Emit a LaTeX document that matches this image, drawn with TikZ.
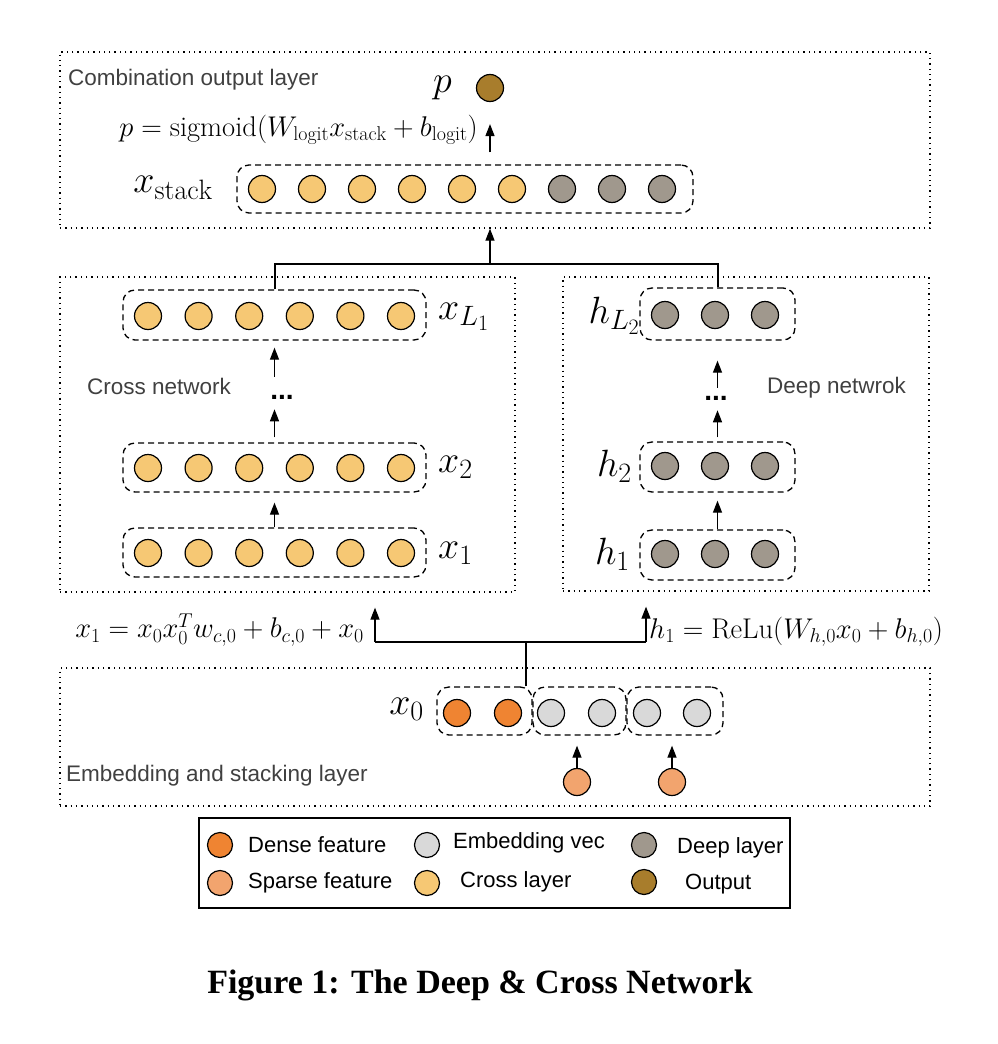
\documentclass[tikz,border=0pt]{standalone}
\usepackage{fontspec}
\setsansfont{Liberation Sans}
\newfontfamily\capfont{Liberation Serif}
\usepackage{xcolor}
\usepackage{tikz}
\usetikzlibrary{positioning, arrows.meta, shapes.geometric}

%% scalable math fonts
\DeclareFontShape{OML}{cmm}{m}{it}{<-6>cmmi5<6-7>cmmi6<7-8>cmmi7<8-9>cmmi8<9-10>cmmi9<10-12>cmmi10<12->cmmi12}{}
\DeclareFontShape{OMS}{cmsy}{m}{n}{<-6>cmsy5<6-7>cmsy6<7-8>cmsy7<8-9>cmsy8<9-10>cmsy9<10->cmsy10}{}
\DeclareFontShape{OT1}{cmr}{m}{n}{<-6>cmr5<6-7>cmr6<7-8>cmr7<8-9>cmr8<9-10>cmr9<10-12>cmr10<12-17>cmr12<17->cmr17}{}
\DeclareMathSizes{38}{38}{28}{22}

\definecolor{crossc}{HTML}{F6C874}
\definecolor{deepc}{HTML}{A0988D}
\definecolor{outc}{HTML}{A87D2C}
\definecolor{densec}{HTML}{EF8432}
\definecolor{sparsec}{HTML}{F2A46E}
\definecolor{embc}{HTML}{D9D9D9}
\definecolor{labelc}{HTML}{404040}

\newcommand{\bigmath}{\fontsize{38}{44}\selectfont}
\newcommand{\formmath}{\fontsize{28.5}{32}\selectfont}

\begin{document}
\begin{tikzpicture}[
  x=1pt, y=-1pt,
  layer/.style={rectangle, draw, line width=1.3pt, dash pattern=on 1.3pt off 4pt, inner sep=0pt},
  group/.style={rectangle, draw, line width=1.3pt, dash pattern=on 6pt off 4pt, rounded corners=12pt, inner sep=0pt},
  unit/.style={circle, draw, line width=1.2pt, minimum size=27pt, inner sep=0pt},
  cross/.style={unit, fill=crossc},
  deep/.style={unit, fill=deepc},
  dense/.style={unit, fill=densec},
  sparse/.style={unit, fill=sparsec},
  emb/.style={unit, fill=embc},
  outunit/.style={unit, fill=outc},
  title/.style={anchor=west, inner sep=0pt, text=labelc, font=\sffamily\fontsize{22.5}{26}\selectfont},
  legtext/.style={anchor=west, inner sep=0pt, font=\sffamily\fontsize{22}{26}\selectfont},
  vdots/.style={inner sep=0pt, font=\sffamily\bfseries\fontsize{28}{32}\selectfont},
  arrow/.style={-{Triangle[length=12pt, width=9pt]}, line width=1.3pt},
  every node/.style={align=center}
]
\useasboundingbox (0,0) rectangle (998,1044);

%% Layers
\node[layer, minimum width=870pt, minimum height=176pt] (outlayer) at (495,140) {};
\node[layer, minimum width=455pt, minimum height=315pt] (crossnet) at (287.5,434.5) {};
\node[layer, minimum width=366pt, minimum height=314pt] (deepnet) at (746,434) {};
\node[layer, minimum width=870pt, minimum height=138pt] (emblayer) at (495,737) {};

\node[title] (outtitle) at (68,80) {Combination output layer};
\node[title] (crosstitle) at (87,386) {Cross network};
\node[title] (deeptitle) at (767,388) {Deep netwrok};
\node[title] (embtitle) at (66,776) {Embedding and stacking layer};

%% Combination output layer
\node[outunit] (pout) at (490,88) {};
\node[anchor=east, inner sep=0pt, font=\bigmath] (plabel) at (452,88) {$p$};
\node[anchor=east, inner sep=0pt, font=\formmath] (outform) at (478,130) {$p = \mathrm{sigmoid}(W_{\mathrm{logit}}x_{\mathrm{stack}} + b_{\mathrm{logit}})$};

\node[group, minimum width=456pt, minimum height=48pt] (stack) at (465,189) {};
\foreach \i in {0,...,5}
  \node[cross] (stk\i) at (262+50*\i,189) {};
\foreach \i in {0,1,2}
  \node[deep] (stkd\i) at (562+50*\i,189) {};
\node[anchor=east, inner sep=0pt, font=\bigmath] (stacklabel) at (213,188) {$x_{\mathrm{stack}}$};

%% Cross network
\node[group, minimum width=303pt, minimum height=50pt] (xboxL) at (274.5,315) {};
\node[group, minimum width=303pt, minimum height=49pt] (xbox2) at (274.5,467.5) {};
\node[group, minimum width=303pt, minimum height=49pt] (xbox1) at (274.5,552.5) {};
\foreach \i in {0,...,5} {
  \node[cross] (xL\i) at (148+50.6*\i,316) {};
  \node[cross] (xb\i) at (148+50.6*\i,468) {};
  \node[cross] (xa\i) at (148+50.6*\i,553) {};
}
\node[anchor=west, inner sep=0pt, font=\bigmath] (xLlabel) at (438,317) {$x_{L_1}$};
\node[anchor=west, inner sep=0pt, font=\bigmath] (x2label) at (438,467) {$x_2$};
\node[anchor=west, inner sep=0pt, font=\bigmath] (x1label) at (438,553) {$x_1$};
\node[vdots] (xdots) at (282,397) {...};

%% Deep network
\node[group, minimum width=155pt, minimum height=52pt] (hboxL) at (717.5,314) {};
\node[group, minimum width=155pt, minimum height=50pt] (hbox2) at (717.5,467) {};
\node[group, minimum width=155pt, minimum height=50pt] (hbox1) at (717.5,555) {};
\foreach \i in {0,1,2} {
  \node[deep] (hL\i) at (665+50*\i,315) {};
  \node[deep] (hb\i) at (665+50*\i,466) {};
  \node[deep] (ha\i) at (665+50*\i,554) {};
}
\node[anchor=east, inner sep=0pt, font=\bigmath] (hLlabel) at (640,316) {$h_{L_2}$};
\node[anchor=east, inner sep=0pt, font=\bigmath] (h2label) at (632,466) {$h_2$};
\node[anchor=east, inner sep=0pt, font=\bigmath] (h1label) at (630,554) {$h_1$};
\node[vdots] (hdots) at (716,398) {...};

%% Embedding and stacking layer
\node[group, minimum width=95pt, minimum height=48pt] (densebox) at (484.5,711) {};
\node[group, minimum width=93pt, minimum height=48pt] (emb1) at (579.5,711) {};
\node[group, minimum width=96pt, minimum height=48pt] (emb2) at (675,711) {};
\node[dense] (d1) at (457,713) {};
\node[dense] (d2) at (508,713) {};
\node[emb] (e1) at (551,713) {};
\node[emb] (e2) at (602,713) {};
\node[emb] (e3) at (647,713) {};
\node[emb] (e4) at (697,713) {};
\node[sparse] (sp1) at (577,782) {};
\node[sparse] (sp2) at (672,782) {};
\node[anchor=east, inner sep=0pt, font=\bigmath] (x0label) at (424,709) {$x_0$};

\node[anchor=east, inner sep=0pt, font=\formmath] (crossform) at (364,630) {$x_1 = x_0x_0^T w_{c,0} + b_{c,0} + x_0$};
\node[anchor=west, inner sep=0pt, font=\formmath] (deepform) at (649,632) {$h_1 = \mathrm{ReLu}(W_{h,0}x_0 + b_{h,0})$};

%% Connections
\coordinate (join) at (490,264);
\coordinate (cjoin) at (275,264);
\coordinate (hjoin) at (718,264);
\draw[line width=1.3pt] (xboxL.north -| cjoin) -- (cjoin) -- (hjoin) -- (hboxL.north -| hjoin);
\draw[arrow] (join) -- (join |- outlayer.south);
\draw[arrow, shorten <=12pt, shorten >=22pt] (stack.north -| pout) -- (pout.south);

\draw[arrow, shorten >=10pt] (xbox1.north) -- (xbox2.south);
\draw[arrow, shorten <=5pt, shorten >=10pt] (xbox2.north) -- (xdots.south -| xbox2.north);
\draw[arrow, shorten <=18pt, shorten >=7pt] (xdots.north -| xboxL.south) -- (xboxL.south);

\draw[arrow, shorten >=8pt] (hbox1.north) -- (hbox2.south);
\draw[arrow, shorten <=4pt, shorten >=10pt] (hbox2.north) -- (hdots.south -| hbox2.north);
\draw[arrow, shorten <=8pt, shorten >=20pt] (hdots.north -| hboxL.south) -- (hboxL.south);

\coordinate (split) at (526,642);
\coordinate (cin) at (375,642);
\coordinate (hin) at (646,642);
\draw[line width=1.3pt] (densebox.north -| split) -- (split);
\draw[line width=1.3pt] (cin) -- (hin);
\draw[arrow, shorten >=15pt] (cin) -- (cin |- crossnet.south);
\draw[arrow, shorten >=15pt] (hin) -- (hin |- deepnet.south);

\draw[arrow, shorten >=10pt] (sp1.north) -- (emb1.south -| sp1);
\draw[arrow, shorten >=10pt] (sp2.north) -- (emb2.south -| sp2);

%% Legend
\node[rectangle, draw, line width=1.3pt, minimum width=591pt, minimum height=90pt] (legend) at (494.5,863) {};
\node[dense, minimum size=25pt] (lgdense) at (220,845) {};
\node[legtext] (lgdensetxt) at (248,845) {Dense feature};
\node[sparse, minimum size=25pt] (lgsparse) at (220,883) {};
\node[legtext] (lgsparsetxt) at (248,883) {Sparse feature};
\node[emb, minimum size=25pt] (lgemb) at (427,845) {};
\node[legtext] (lgembtxt) at (453,843) {Embedding vec};
\node[cross, minimum size=25pt] (lgcross) at (427,883) {};
\node[legtext] (lgcrosstxt) at (460,882) {Cross layer};
\node[deep, minimum size=25pt] (lgdeep) at (644,845) {};
\node[legtext] (lgdeeptxt) at (677,848) {Deep layer};
\node[outunit, minimum size=25pt] (lgout) at (644,882) {};
\node[legtext] (lgouttxt) at (685,884) {Output};

%% Caption
\node[font=\capfont\bfseries\fontsize{34}{40}\selectfont] (caption) at (480,985) {Figure 1: The Deep \& Cross Network};
\end{tikzpicture}
\end{document}
